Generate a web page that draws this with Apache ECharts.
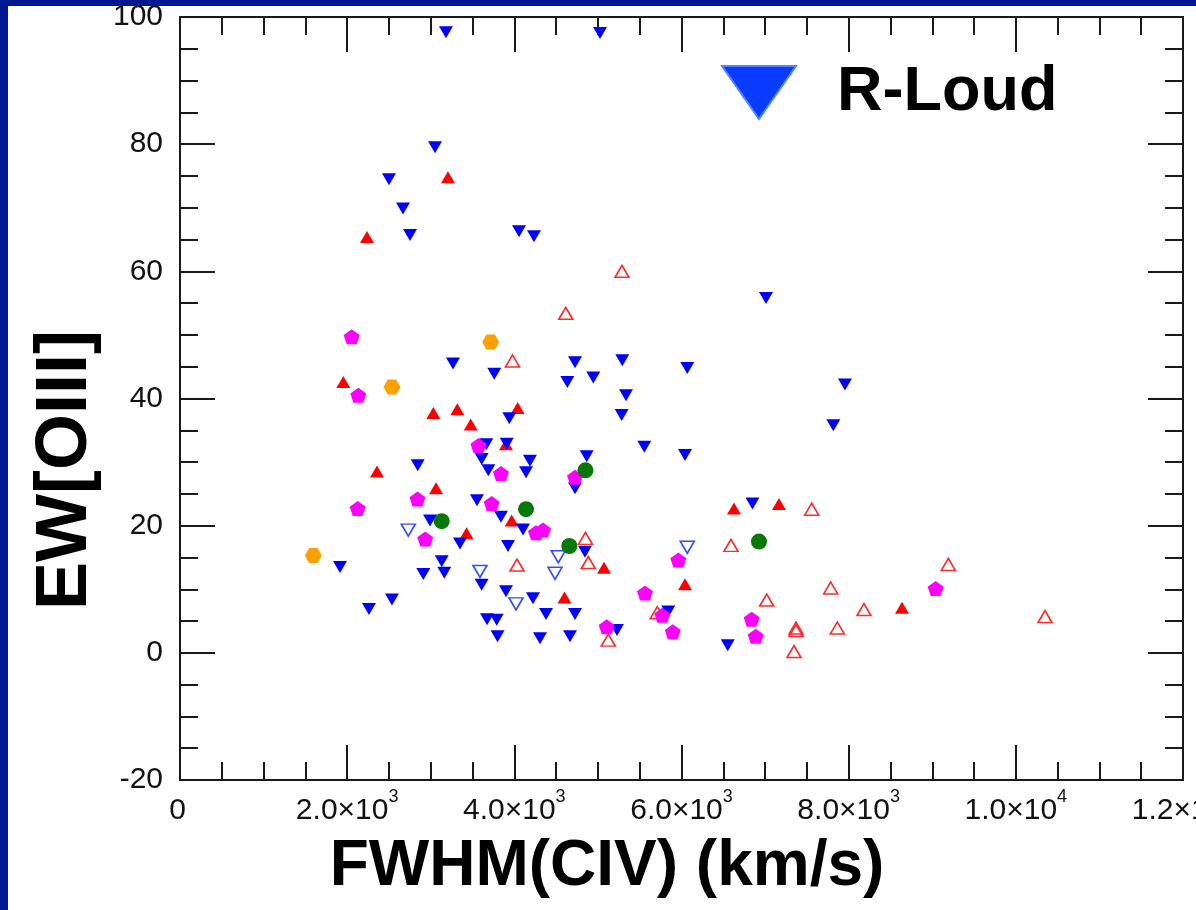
<!DOCTYPE html>
<html>
<head>
<meta charset="utf-8">
<script src="https://cdn.jsdelivr.net/npm/echarts@6/dist/echarts.min.js"></script>
<style>
  html, body { margin: 0; padding: 0; width: 1196px; height: 910px; background: #001990; overflow: hidden; }
  #chart { position: absolute; left: 8px; top: 6px; width: 1188px; height: 904px; background: #ffffff; }
</style>
</head>
<body>
<div id="chart"></div>
<script>
// ---- data (FWHM(CIV) km/s, EW[OIII]) ----
const rLoud = [
  [3182,97.6],[5025,97.5],[3051,79.5],[2500,74.5],[2668,69.9],[2752,65.7],[4056,66.3],[4235,65.5],
  [7011,55.8],[3266,45.5],[3760,43.9],[4726,45.7],[4634,42.6],[4945,43.3],[5292,46.0],[5336,40.5],
  [5284,37.4],[6069,44.8],[7956,42.2],[7816,35.8],[3940,36.9],[3665,32.8],[3909,32.9],[3609,30.5],
  [3689,28.7],[4187,30.2],[4140,28.4],[4866,30.9],[2844,29.5],[4726,25.9],[3553,24.0],[3840,21.4],
  [2991,20.8],[4104,19.4],[3350,17.2],[3924,16.8],[3131,14.4],[3162,12.6],[2911,12.4],[3609,10.7],
  [3900,9.7],[4223,8.6],[4379,6.1],[4726,6.1],[2536,8.4],[3673,5.3],[3789,5.2],[3799,2.6],
  [4307,2.3],[4666,2.6],[5228,3.6],[4845,15.9],[1914,13.5],[2261,6.9],[5555,32.4],[6042,31.1],
  [5842,6.5],[6553,1.2],[6849,23.5]
];
const rLoudOpen = [[2731,19.3],[3589,12.8],[4526,15.1],[4487,12.5],[4020,7.7],[6069,16.6]];
const redFilled = [
  [3206,74.8],[2237,65.4],[1954,42.6],[3031,37.7],[3318,38.3],[3478,35.9],[4040,38.5],[3900,32.8],
  [3063,25.9],[2357,28.5],[3428,18.8],[3968,20.8],[5073,13.4],[4600,8.7],[6042,10.8],[6628,22.7],
  [7166,23.4],[8638,7.1]
];
const redOpen = [
  [5288,60.0],[4615,53.4],[3978,45.9],[4851,18.0],[4885,14.2],[4032,13.8],[5124,2.0],[5710,6.3],
  [6592,16.9],[7558,22.6],[7785,10.2],[7019,8.3],[7370,3.9],[7370,3.5],[7346,0.2],[7864,3.9],
  [8183,6.8],[9192,13.9],[10349,5.7]
];
const magentaPts = [
  [2054,49.7],[2133,40.5],[3571,32.6],[3840,28.2],[4726,27.6],[2841,24.2],[3729,23.5],[2126,22.7],
  [2934,17.9],[4259,18.9],[4343,19.3],[5105,4.1],[5962,14.6],[5563,9.4],[5770,5.9],[5895,3.3],
  [6840,5.3],[6888,2.6],[9041,10.1]
];
const orangePts = [[3717,48.9],[2536,41.8],[1595,15.3]];
const greenPts = [[4851,28.7],[4140,22.6],[3131,20.7],[4658,16.8],[6927,17.5]];

// tick labels
const xTickValues = [0, 2000, 4000, 6000, 8000, 10000, 12000];
const xTickLabels = [['0',' '],['2.0\u00d710','3'],['4.0\u00d710','3'],['6.0\u00d710','3'],['8.0\u00d710','3'],['1.0\u00d710','4'],['1.2\u00d710','4']];
const yTickValues = [-20, 0, 20, 40, 60, 80, 100];
const yTickLabels = ['-20', '0', '20', '40', '60', '80', '100'];

const FONT = "'Liberation Sans', Arial, Helvetica, sans-serif";
const DOWN_TRI = 'path://M0,0L2,0L1,1.732Z';
const PENTAGON = 'path://M0,-1L0.951,-0.309L0.588,0.809L-0.588,0.809L-0.951,-0.309Z';
const HEXAGON = 'path://M-1,0L-0.5,-0.866L0.5,-0.866L1,0L0.5,0.866L-0.5,0.866Z';

const tickColor = '#1a1a1a';
function axisCommon() {
  return {
    axisLine: { show: true, onZero: false, lineStyle: { color: tickColor, width: 2 } },
    axisTick: { show: true, inside: true, length: 35, lineStyle: { color: tickColor, width: 2 } },
    minorTick: { show: true, splitNumber: 4, length: 18, lineStyle: { color: tickColor, width: 2 } },
    splitLine: { show: false },
    minorSplitLine: { show: false }
  };
}

const chart = echarts.init(document.getElementById('chart'), null, { renderer: 'canvas' });
const option = {
  animation: false,
  backgroundColor: '#ffffff',
  grid: { left: 172, top: 11, width: 1003, height: 763, containLabel: false, outerBoundsMode: 'none' },
  legend: {
    data: [{ name: 'R-Loud', icon: DOWN_TRI, itemStyle: { color: '#0a3cff', borderColor: '#4f86ff', borderWidth: 2, opacity: 1 } }],
    left: 708, top: 50, itemWidth: 74, itemHeight: 53, selectedMode: false, symbolKeepAspect: false,
    textStyle: { fontSize: 63, fontWeight: 'bold', color: '#000', fontFamily: FONT, padding: [0, 0, 0, 36] }
  },
  xAxis: [
    Object.assign(axisCommon(), {
      type: 'value', min: 0, max: 12000, interval: 2000, position: 'bottom',
      name: 'FWHM(CIV) (km/s)', nameLocation: 'middle', nameGap: 55,
      nameTextStyle: { fontSize: 64, fontWeight: 'bold', color: '#000', fontFamily: FONT, padding: [0, 149, 0, 0] },
      axisLabel: {
        show: true, margin: 8, color: '#111', fontFamily: FONT,
        formatter: function (v) {
          const i = xTickValues.indexOf(v);
          const p = i >= 0 ? xTickLabels[i] : [String(v), ' '];
          return '{m|' + p[0] + '}{s|' + p[1] + '}';
        },
        rich: {
          m: { fontSize: 30, color: '#111', fontFamily: FONT },
          s: { fontSize: 18, color: '#111', fontFamily: FONT, padding: [0, 0, 28, 0] }
        }
      }
    }),
    Object.assign(axisCommon(), {
      type: 'value', min: 0, max: 12000, interval: 2000, position: 'top',
      axisLabel: { show: false }
    })
  ],
  yAxis: [
    Object.assign(axisCommon(), {
      type: 'value', min: -20, max: 100, interval: 20, position: 'left',
      name: 'EW[OIII]', nameLocation: 'middle', nameGap: 70,
      nameTextStyle: { fontSize: 72, fontWeight: 'bold', color: '#000', fontFamily: FONT, padding: [0, 143, 0, 0] },
      axisLabel: {
        show: true, margin: 17, fontSize: 30, color: '#111', fontFamily: FONT,
        formatter: function (v) { const i = yTickValues.indexOf(v); return i >= 0 ? yTickLabels[i] : String(v); }
      }
    }),
    Object.assign(axisCommon(), {
      type: 'value', min: -20, max: 100, interval: 20, position: 'right',
      axisLabel: { show: false }
    })
  ],
  series: [
    { name: 'R-Quiet (limit)', type: 'scatter', data: redOpen, symbol: 'triangle', symbolSize: [14, 12],
      itemStyle: { color: 'rgba(255,255,255,0)', borderColor: '#ff2a2a', borderWidth: 1.6, opacity: 1 }, z: 2 },
    { name: 'R-Quiet', type: 'scatter', data: redFilled, symbol: 'triangle', symbolSize: [14, 12],
      itemStyle: { color: '#ff0000', opacity: 1 }, z: 3 },
    { name: 'R-Loud (limit)', type: 'scatter', data: rLoudOpen, symbol: DOWN_TRI, symbolSize: [14, 12],
      itemStyle: { color: 'rgba(255,255,255,0)', borderColor: '#2f4dff', borderWidth: 1.6, opacity: 1 }, z: 4 },
    { name: 'R-Loud', type: 'scatter', data: rLoud, symbol: DOWN_TRI, symbolSize: [14, 12],
      itemStyle: { color: '#0000ff', opacity: 1 }, z: 5 },
    { name: 'Pentagon', type: 'scatter', data: magentaPts, symbol: PENTAGON, symbolSize: [16, 15],
      itemStyle: { color: '#ff00ff', opacity: 1 }, z: 6 },
    { name: 'Hexagon', type: 'scatter', data: orangePts, symbol: HEXAGON, symbolSize: [17, 15],
      itemStyle: { color: '#ffa000', opacity: 1 }, z: 7 },
    { name: 'Circle', type: 'scatter', data: greenPts, symbol: 'circle', symbolSize: 16,
      itemStyle: { color: '#067806', opacity: 1 }, z: 8 }
  ]
};
chart.setOption(option);
</script>
</body>
</html>
